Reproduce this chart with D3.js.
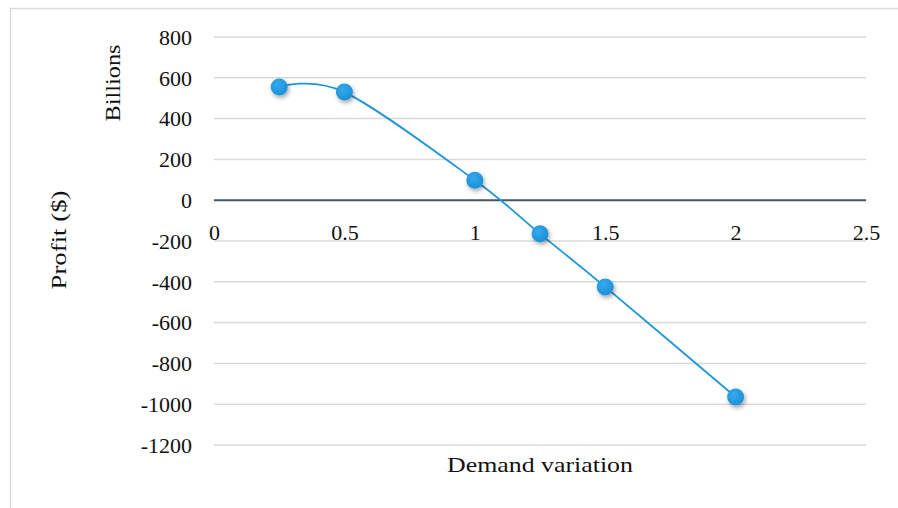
<!DOCTYPE html>
<html>
<head>
<meta charset="utf-8">
<script src="https://cdn.jsdelivr.net/npm/d3@7/dist/d3.min.js"></script>
<style>
  html, body { margin: 0; padding: 0; background: #fff; }
  svg { display: block; }
  text { font-family: "Liberation Serif", "DejaVu Serif", serif; fill: #111; }
</style>
</head>
<body>
<svg id="chart" width="898" height="508"></svg>
<script>
// Profit (in billions of $) against demand variation
const demandVariation = [0.25, 0.5, 1, 1.25, 1.5, 2];
const profitBillions  = [555, 530, 98, -165, -425, -965];
const xTicks = [0, 0.5, 1, 1.5, 2, 2.5];
const yTicks = [800, 600, 400, 200, 0, -200, -400, -600, -800, -1000, -1200];

const svg = d3.select("#chart");
const W = 898, H = 508;
const FONT = "Liberation Serif, DejaVu Serif, serif";

// chart frame
svg.append("rect")
  .attr("x", 10.5).attr("y", 8.5)
  .attr("width", W).attr("height", H)
  .attr("fill", "#fff")
  .attr("stroke", "#d9d9d9").attr("stroke-width", 1.5);

const x = d3.scaleLinear().domain([0, 2.5]).range([214, 866]);
const y = d3.scaleLinear().domain([-1200, 800]).range([445, 37]);

const defs = svg.append("defs");
const shadow = defs.append("filter").attr("id", "shadow")
  .attr("x", "-50%").attr("y", "-50%").attr("width", "200%").attr("height", "200%");
shadow.append("feDropShadow")
  .attr("dx", 1.5).attr("dy", 2.5).attr("stdDeviation", 2)
  .attr("flood-color", "#000").attr("flood-opacity", 0.35);

const grad = defs.append("radialGradient").attr("id", "dotFill")
  .attr("cx", "40%").attr("cy", "35%").attr("r", "70%");
grad.append("stop").attr("offset", "0%").attr("stop-color", "#35a9ee");
grad.append("stop").attr("offset", "100%").attr("stop-color", "#1a8fd4");

// horizontal gridlines
svg.append("g")
  .selectAll("line")
  .data(yTicks.filter(v => v !== 0))
  .join("line")
  .attr("x1", x(0)).attr("x2", x(2.5))
  .attr("y1", d => y(d)).attr("y2", d => y(d))
  .attr("stroke", "#d9d9d9").attr("stroke-width", 1.5);

// y axis labels (plain hyphen for negatives)
const yAxis = d3.axisLeft(y).tickValues(yTicks).tickSize(0).tickPadding(0)
  .tickFormat(d => String(d));
const gy = svg.append("g").attr("transform", "translate(192,0)").call(yAxis)
  .attr("font-size", null).attr("font-family", null);
gy.select(".domain").remove();
gy.selectAll("text")
  .style("font-size", "22px").style("font-family", FONT)
  .attr("fill", "#111").attr("dy", "0.33em");

// horizontal axis along zero
svg.append("line")
  .attr("x1", x(0)).attr("x2", x(2.5))
  .attr("y1", y(0)).attr("y2", y(0))
  .attr("stroke", "#44546a").attr("stroke-width", 2);

const xAxis = d3.axisBottom(x).tickValues(xTicks).tickSize(0).tickPadding(0)
  .tickFormat(d => String(d));
const gx = svg.append("g").attr("transform", "translate(0,240)").call(xAxis)
  .attr("font-size", null).attr("font-family", null);
gx.select(".domain").remove();
gx.selectAll("text")
  .style("font-size", "22px").style("font-family", FONT)
  .attr("fill", "#111").attr("y", 0).attr("dy", 0);

// axis titles
svg.append("text")
  .attr("transform", "translate(120,83) rotate(-90)")
  .attr("text-anchor", "middle").style("font-size", "22px")
  .attr("textLength", 77).attr("lengthAdjust", "spacingAndGlyphs")
  .text("Billions");
svg.append("text")
  .attr("transform", "translate(66,240) rotate(-90)")
  .attr("text-anchor", "middle").style("font-size", "22px")
  .attr("textLength", 99).attr("lengthAdjust", "spacingAndGlyphs")
  .text("Profit ($)");
svg.append("text")
  .attr("x", 540).attr("y", 472)
  .attr("text-anchor", "middle").style("font-size", "22px")
  .attr("textLength", 186).attr("lengthAdjust", "spacingAndGlyphs")
  .text("Demand variation");

// smoothed series line
const pts = demandVariation.map((d, i) => [d, profitBillions[i]]);
const line = d3.line()
  .x(d => x(d[0])).y(d => y(d[1]))
  .curve(d3.curveCatmullRom.alpha(0));
svg.append("path")
  .datum(pts)
  .attr("d", line)
  .attr("fill", "none")
  .attr("stroke", "#1f96d8").attr("stroke-width", 1.8);

// markers
svg.append("g")
  .selectAll("circle")
  .data(pts)
  .join("circle")
  .attr("cx", d => x(d[0])).attr("cy", d => y(d[1]))
  .attr("r", 8.5)
  .attr("fill", "url(#dotFill)")
  .attr("filter", "url(#shadow)");
</script>
</body>
</html>
